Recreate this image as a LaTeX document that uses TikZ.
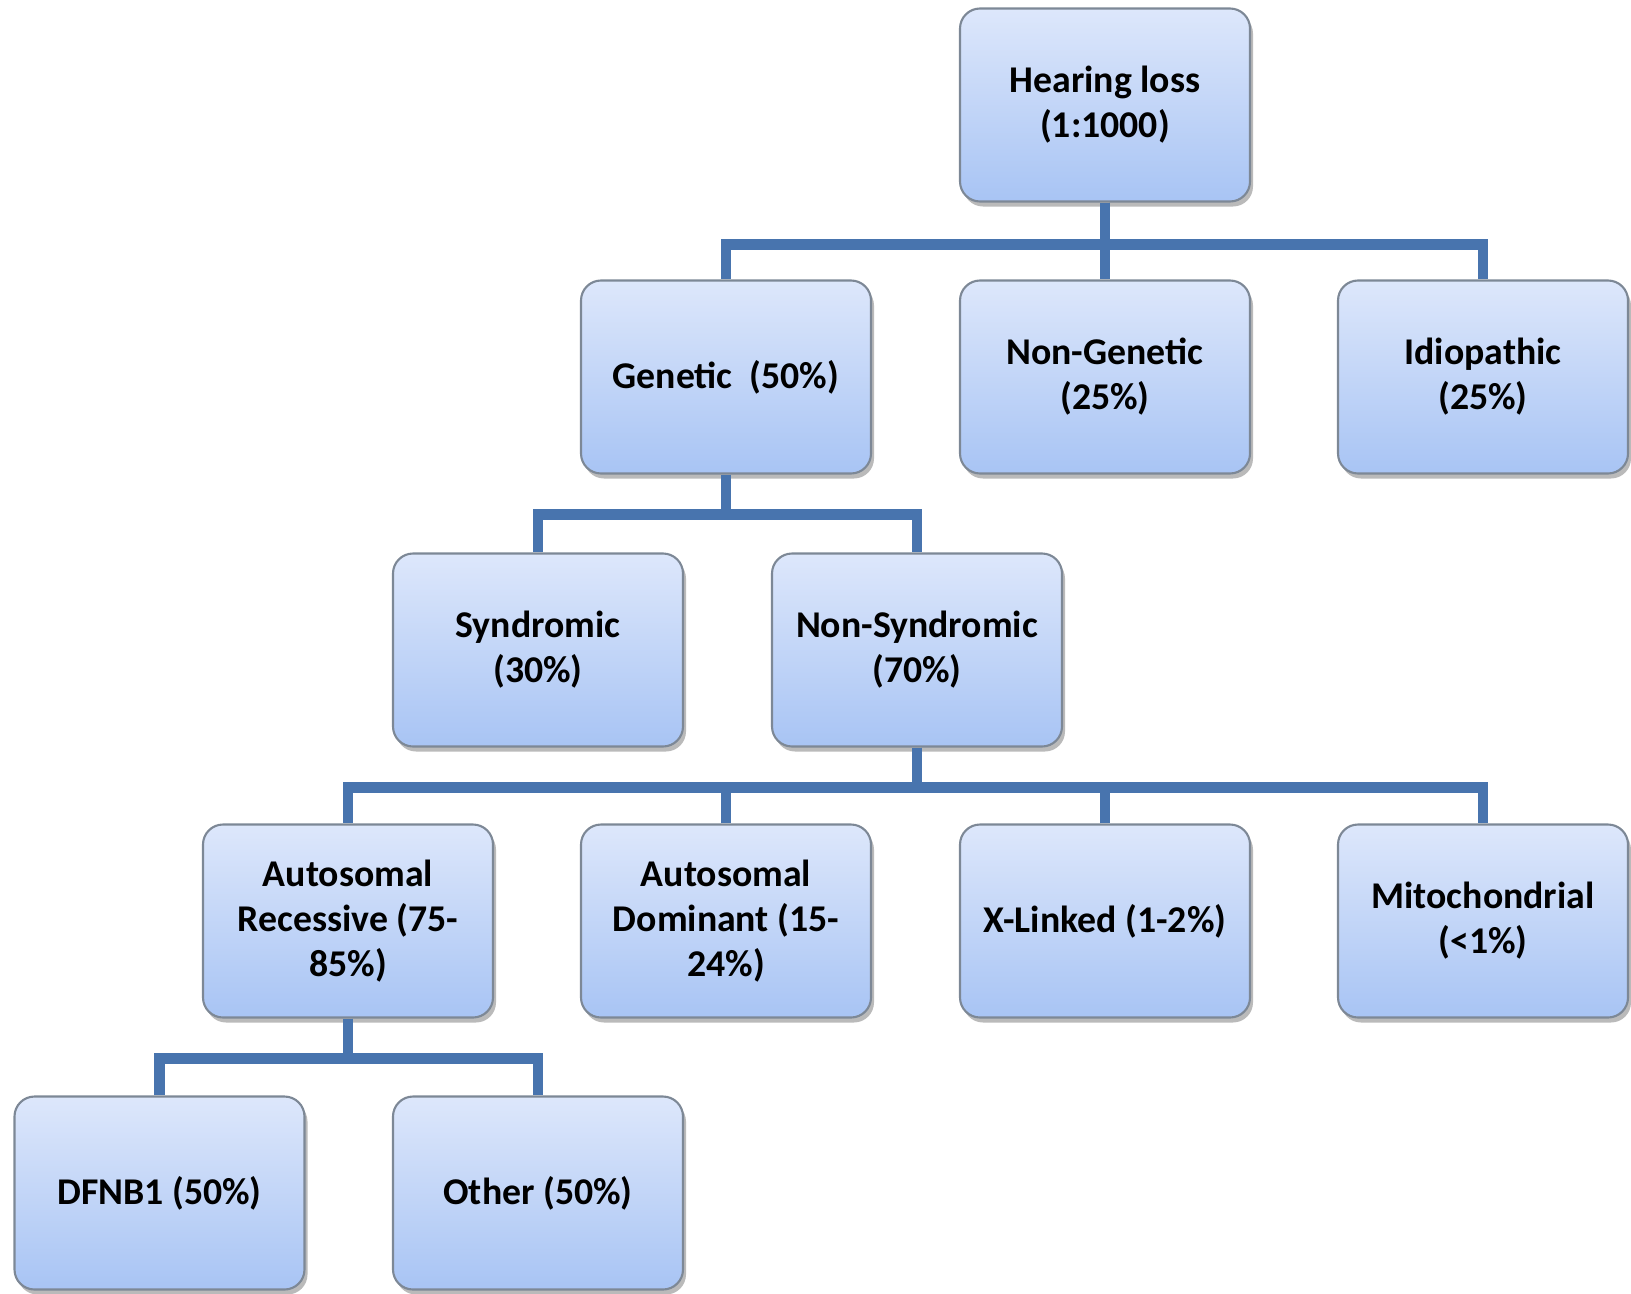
\documentclass[tikz,border=0pt]{standalone}
\usepackage{fontspec}
\setmainfont{Carlito}
\usetikzlibrary{shadows}

\definecolor{boxtop}{HTML}{DDE7FB}
\definecolor{boxbot}{HTML}{A8C4F4}
\definecolor{boxline}{HTML}{7D8896}
\definecolor{linkblue}{HTML}{4874AE}

\begin{document}
\begin{tikzpicture}[
    box/.style={draw=boxline, line width=1.2pt, rounded corners=0.4cm,
        top color=boxtop, bottom color=boxbot,
        minimum width=5.8cm, minimum height=3.86cm, align=center,
        font=\fontsize{21.5}{25.6}\selectfont\bfseries,
        drop shadow={shadow xshift=0.06cm, shadow yshift=-0.1cm, fill=black!45, opacity=0.6}},
    link/.style={linkblue, line width=6.2pt}
]
    \useasboundingbox (0,0) rectangle (32.62,-25.86);

    % boxes, row by row
    \node[box] (hl) at (22.10,-2.10) {Hearing loss\\(1:1000)};

    \node[box] (gen) at (14.52,-7.54) {Genetic~~(50\%)};
    \node[box] (nongen) at (22.10,-7.54) {Non-Genetic\\(25\%)};
    \node[box] (idio) at (29.66,-7.54) {Idiopathic\\(25\%)};

    \node[box] (synd) at (10.76,-13.00) {Syndromic\\(30\%)};
    \node[box] (nonsynd) at (18.34,-13.00) {Non-Syndromic\\(70\%)};

    \node[box] (ar) at (6.96,-18.42) {Autosomal\\Recessive (75-\\85\%)};
    \node[box] (ad) at (14.52,-18.42) {Autosomal\\Dominant (15-\\24\%)};
    \node[box] (xl) at (22.10,-18.42) {X-Linked (1-2\%)};
    \node[box] (mito) at (29.66,-18.42) {Mitochondrial\\(<1\%)};

    \node[box] (dfnb) at (3.19,-23.86) {DFNB1 (50\%)};
    \node[box] (other) at (10.76,-23.86) {Other (50\%)};

    % connectors
    \draw[link] (hl.south) -- ++(0,-0.84) -| (gen.north);
    \draw[link] (hl.south) -- ++(0,-0.84) -| (idio.north);
    \draw[link] (hl.south) -- (nongen.north);

    \draw[link] (gen.south) -- ++(0,-0.8) -| (synd.north);
    \draw[link] (gen.south) -- ++(0,-0.8) -| (nonsynd.north);

    \draw[link] (nonsynd.south) -- ++(0,-0.8) -| (ar.north);
    \draw[link] (nonsynd.south) -- ++(0,-0.8) -| (mito.north);
    \draw[link] (ad.north) |- ++(0,0.8);
    \draw[link] (xl.north) |- ++(0,0.8);

    \draw[link] (ar.south) -- ++(0,-0.8) -| (dfnb.north);
    \draw[link] (ar.south) -- ++(0,-0.8) -| (other.north);
\end{tikzpicture}
\end{document}
